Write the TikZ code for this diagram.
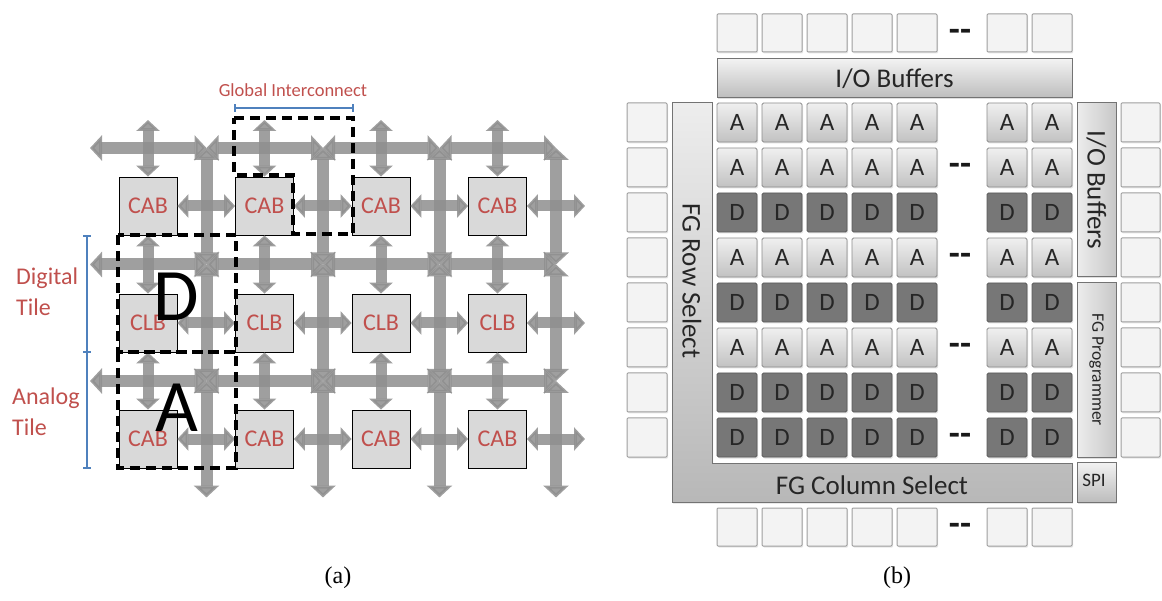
\documentclass[tikz,border=0pt]{standalone}
\usepackage{fontspec}
\setmainfont{Carlito}
\newfontfamily\capfont{Liberation Serif}
\usetikzlibrary{arrows.meta,shadows}
\definecolor{busgray}{HTML}{8E8E8E}
\definecolor{tilered}{HTML}{C0504D}
\definecolor{scaleblue}{HTML}{4F81BD}
\definecolor{blockfill}{HTML}{D9D9D9}
\definecolor{dcell}{HTML}{777777}
\definecolor{dborder}{HTML}{5A5A5A}
\definecolor{padfill}{HTML}{F3F3F3}
\definecolor{padline}{HTML}{9E9E9E}
\definecolor{acellline}{HTML}{8C8C8C}
\begin{document}
\begin{tikzpicture}[x=1pt,y=-1pt,
  bus/.style={line width=12pt, draw=busgray, opacity=0.85, >={Triangle[width=25pt,length=12pt]}, <->},
  sbus/.style={line width=11pt, draw=busgray, opacity=0.85, >={Triangle[width=23pt,length=11pt]}, <->},
  blk/.style={draw=black, line width=0.8pt, fill=blockfill, minimum width=58pt, minimum height=58pt, inner sep=0pt, text=tilered, font=\fontsize{24}{24}\selectfont},
  tilebox/.style={draw=black, line width=3.2pt, dash pattern=on 10pt off 6pt},
  bigletter/.style={font=\fontsize{74}{74}\selectfont, inner sep=0pt},
  redlabel/.style={text=tilered, font=\fontsize{24}{31}\selectfont, align=left, inner sep=0pt},
  scalebar/.style={draw=scaleblue, line width=1.3pt},
  captext/.style={font=\capfont\fontsize{24}{24}\selectfont, inner sep=0pt},
  pad/.style={draw=padline, line width=1pt, fill=padfill, minimum width=40pt, minimum height=38pt, inner sep=0pt, rounded corners=1pt, drop shadow={shadow xshift=1pt, shadow yshift=-1.5pt, opacity=0.2}},
  acell/.style={draw=acellline, line width=0.9pt, top color=white!94!black, bottom color=white!76!black, minimum width=40pt, minimum height=39pt, inner sep=0pt, rounded corners=1.5pt, font=\fontsize{25}{25}\selectfont, text=black!85, drop shadow={shadow xshift=1pt, shadow yshift=-1.5pt, opacity=0.25}},
  dcellst/.style={draw=dborder, line width=0.9pt, fill=dcell, minimum width=40pt, minimum height=39pt, inner sep=0pt, rounded corners=1.5pt, font=\fontsize{25}{25}\selectfont, text=black!85, drop shadow={shadow xshift=1pt, shadow yshift=-1.5pt, opacity=0.25}},
  bar/.style={draw=black!55, line width=1pt, top color=white!95!black, bottom color=white!74!black, inner sep=0pt, font=\fontsize{27}{27}\selectfont, text=black!85, drop shadow={shadow xshift=1pt, shadow yshift=-1.5pt, opacity=0.25}},
  vbar/.style={draw=black!55, line width=1pt, left color=white!93!black, right color=white!78!black, inner sep=0pt, drop shadow={shadow xshift=1pt, shadow yshift=-1.5pt, opacity=0.25}},
  dots/.style={font=\bfseries\fontsize{36}{36}\selectfont, inner sep=0pt, text=black!90}
]
\useasboundingbox (0,0) rectangle (1162,601);

% ---------------- (a) ----------------
\foreach \i/\gx in {0/90,1/206.5,2/323,3/439.5,4/556}{
  \foreach \j/\gy in {0/148,1/264.5,2/381,3/497.5}{
    \coordinate (g-\i-\j) at (\gx,\gy);
  }
}
\foreach \j in {0,1,2}{
  \foreach \i [evaluate=\i as \ip using int(\i-1)] in {1,2,3,4}{
    \draw[bus] (g-\ip-\j) -- (g-\i-\j);
  }
}
\foreach \i in {1,2,3,4}{
  \foreach \j [evaluate=\j as \jn using int(\j+1)] in {0,1,2}{
    \draw[bus] (g-\i-\j) -- (g-\i-\jn);
  }
}
\foreach \r/\cy/\lab in {1/206/CAB,2/323/CLB,3/439/CAB}{
  \foreach \c/\cx in {1/148,2/264.5,3/381,4/497.5}{
    \node[blk] (b\r\c) at (\cx,\cy) {\lab};
  }
}
\foreach \c/\cx in {1/148,2/264.5,3/381,4/497.5}{
  \coordinate (t\c) at (\cx,120);
}
\foreach \r/\cy in {1/206,2/323,3/439}{
  \coordinate (e\r) at (585,\cy);
}
\foreach \c in {1,2,3,4}{
  \draw[sbus] (t\c) -- (b1\c.north);
  \draw[sbus] (b1\c.south) -- (b2\c.north);
  \draw[sbus] (b2\c.south) -- (b3\c.north);
}
\foreach \r in {1,2,3}{
  \draw[sbus] (b\r1.east) -- (b\r2.west);
  \draw[sbus] (b\r2.east) -- (b\r3.west);
  \draw[sbus] (b\r3.east) -- (b\r4.west);
  \draw[sbus] (b\r4.east) -- (e\r);
}
\draw[tilebox] (234,118) -- (353,118) -- (353,234) -- (293,234) -- (293,175) -- (234,175) -- cycle;
\draw[tilebox] (118,235) rectangle (236,352);
\draw[tilebox] (118,352) rectangle (236,468);
\node[bigletter] (bigD) at (176,297) {D};
\node[bigletter] (bigA) at (177,408) {A};
\node[text=tilered, font=\fontsize{18.5}{18.5}\selectfont, inner sep=0pt] (gi) at (293,90) {Global Interconnect};
\coordinate (gs1) at (235,108);
\coordinate (gs2) at (353,108);
\draw[scalebar] (gs1) -- (gs2);
\draw[scalebar] ([yshift=-4pt]gs1) -- ([yshift=4pt]gs1);
\draw[scalebar] ([yshift=-4pt]gs2) -- ([yshift=4pt]gs2);
\coordinate (ls1) at (87,236);
\coordinate (ls2) at (87,352);
\coordinate (ls3) at (87,468);
\draw[scalebar] (ls1) -- (ls3);
\foreach \k in {1,2,3}{\draw[scalebar] ([xshift=-4pt]ls\k) -- ([xshift=4pt]ls\k);}
\node[redlabel, anchor=west] (dig) at (16,292) {Digital\\Tile};
\node[redlabel, anchor=west] (ana) at (12,412) {Analog\\Tile};
\node[captext] (capa) at (338,578) {(a)};

% ---------------- (b) ----------------
\foreach \c/\cx in {1/737,2/782,3/827,4/872,5/917,6/1007,7/1052}{
  \node[pad] (pt\c) at (\cx,33) {};
  \node[pad] (pb\c) at (\cx,527) {};
}
\foreach \r in {1,...,8}{
  \pgfmathsetmacro{\ry}{122.5+45*(\r-1)}
  \node[pad, minimum height=39pt] (pl\r) at (647,\ry) {};
  \node[pad, minimum height=39pt, minimum width=39pt] (pr\r) at (1140.5,\ry) {};
}
\node[bar, minimum width=355pt, minimum height=39pt] (iotop) at (894.5,78.5) {I/O Buffers};
\path[draw=black!55, line width=1pt, top color=white!93!black, bottom color=white!72!black, drop shadow={shadow xshift=1pt, shadow yshift=-1.5pt, opacity=0.25}]
  (672,103) -- (712,103) -- (712,463) -- (1072,463) -- (1072,502) -- (672,502) -- cycle;
\draw[white, line width=1.2pt] (715,103) -- (715,460) -- (1072,460);
\node[rotate=-90, font=\fontsize{27}{27}\selectfont, text=black!85, inner sep=0pt] (rowsel) at (692,281) {FG Row Select};
\node[font=\fontsize{27}{27}\selectfont, text=black!85, inner sep=0pt] (colsel) at (872,485) {FG Column Select};
\node[vbar, minimum width=39pt, minimum height=174pt] (iorbar) at (1096.5,190) {};
\node[rotate=-90, font=\fontsize{27}{27}\selectfont, text=black!85, inner sep=0pt] (iortext) at (iorbar.center) {I/O Buffers};
\node[vbar, minimum width=39pt, minimum height=174pt] (fgp) at (1096.5,370) {};
\node[rotate=-90, font=\fontsize{17.5}{17.5}\selectfont, text=black!85, inner sep=0pt] (fgptext) at (fgp.center) {FG Programmer};
\node[bar, minimum width=39pt, minimum height=40pt] (spi) at (1096.5,482) {};
\node[font=\fontsize{19}{19}\selectfont, text=black!85, inner sep=0pt] (spitext) at (1094,480) {SPI};
\foreach \r/\t in {1/A,2/A,3/D,4/A,5/D,6/A,7/D,8/D}{
  \pgfmathsetmacro{\ry}{122.5+45*(\r-1)}
  \foreach \c/\cx in {1/737,2/782,3/827,4/872,5/917,6/1007,7/1052}{
    \if\t A
      \node[acell] (cell-\r-\c) at (\cx,\ry) {A};
    \else
      \node[dcellst] (cell-\r-\c) at (\cx,\ry) {D};
    \fi
  }
}
\node[dots] (dt) at (960,35) {-{}-};
\node[dots] (db) at (960,529) {-{}-};
\foreach \r in {2,4,6,8}{
  \pgfmathsetmacro{\ry}{124.5+45*(\r-1)}
  \node[dots] (dr\r) at (960,\ry) {-{}-};
}
\node[captext] (capb) at (897,578) {(b)};
\end{tikzpicture}
\end{document}
